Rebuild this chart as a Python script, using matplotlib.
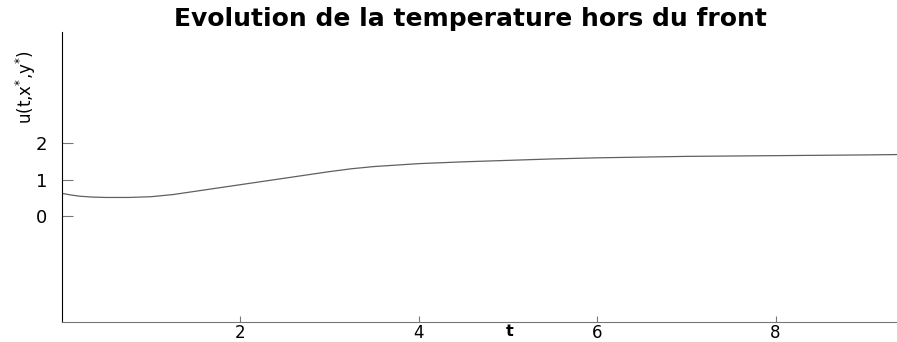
import matplotlib
matplotlib.use("Agg")
import matplotlib.pyplot as plt
import numpy as np

# data
t = [0.0, 0.1, 0.2, 0.35, 0.5, 0.75, 1.0, 1.25, 1.5, 1.75, 2.0, 2.25, 2.5, 2.75, 3.0,
     3.25, 3.5, 3.75, 4.0, 4.5, 5.0, 5.5, 6.0, 6.5, 7.0, 7.5, 8.0, 8.5, 9.0, 9.36]
u = [0.625, 0.58, 0.545, 0.52, 0.51, 0.51, 0.53, 0.59, 0.68, 0.77, 0.86, 0.95, 1.04, 1.13, 1.22,
     1.30, 1.36, 1.40, 1.44, 1.49, 1.53, 1.57, 1.60, 1.62, 1.64, 1.65, 1.66, 1.67, 1.68, 1.69]
xticks = [2, 4, 6, 8]
yticks = [0, 1, 2]
title = "Evolution de la temperature hors du front"
xlabel = "t"
ylabel = r"u(t,x$^{*}$,y$^{*}$)"

fig = plt.figure(figsize=(8.97, 3.42), dpi=100)
ax = fig.add_axes([61.5/897, 1-321.7/342, 1-61.5/897, (321.7-31.7)/342])
ax.plot(t, u, color="#606060", lw=0.9)
ax.set_xlim(0, 9.36)
ax.set_ylim(-2.908, 5.07)
ax.set_xticks(xticks)
ax.set_yticks(yticks)
ax.spines["top"].set_visible(False)
ax.spines["right"].set_visible(False)
ax.spines["left"].set_color("black")
ax.spines["bottom"].set_color("#777777")
ax.tick_params(axis="y", direction="in", length=8, color="#777777", pad=10,
               labelsize=13)
ax.tick_params(axis="x", direction="in", length=4, color="#777777", pad=2,
               labelsize=12)

fig.text(470/897, 1-19/342, title, ha="center", va="center",
         fontsize=18, fontweight="bold")
fig.text(510/897, 1-332/342, xlabel, ha="center", va="center",
         fontsize=11.5, fontweight="bold")
fig.text(26/897, 1-87/342, ylabel, ha="center", va="center",
         fontsize=12, rotation=90)

fig.savefig("out.png", dpi=100)
